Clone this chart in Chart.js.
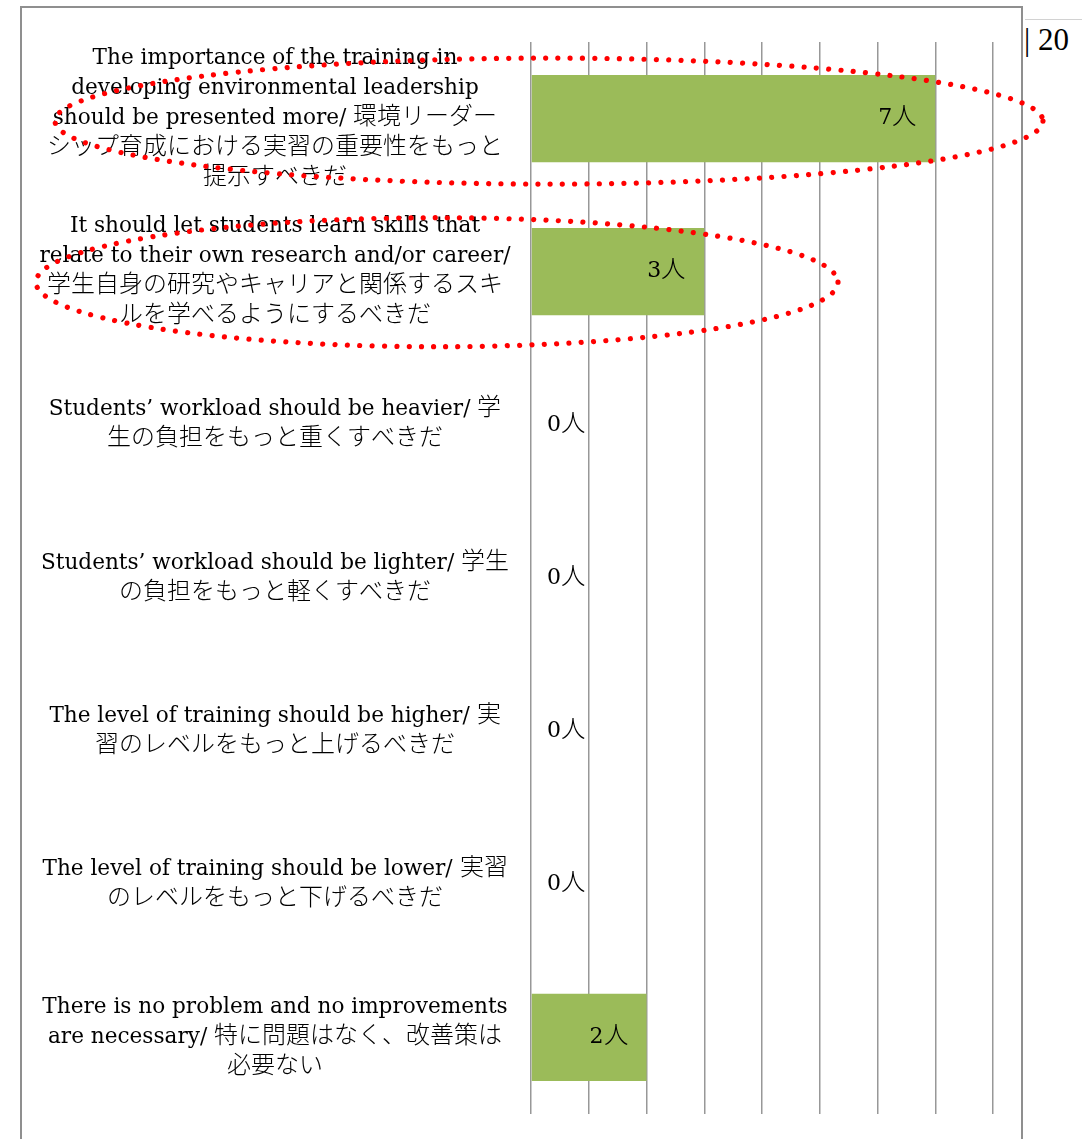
<!DOCTYPE html>
<html>
<head>
<meta charset="utf-8">
<style>
@font-face {
  font-family: 'JPText';
  src: local('Noto Sans CJK JP Light'), local('NotoSansCJKjp-Light'), local('Noto Sans CJK JP'), local('Noto Sans CJK JP Regular'), local('NotoSansCJKjp-Regular');
  size-adjust: 111%;
  unicode-range: U+3000-30FF, U+4E00-9FFF, U+FF00-FFEF;
}
html, body { margin: 0; padding: 0; background: #fff; }
body { width: 1082px; height: 1139px; position: relative; overflow: hidden; }
#frame { position: absolute; left: 20px; top: 6px; width: 1003px; height: 1200px; border: 2px solid #8f8f8f; box-sizing: border-box; }
#rule { position: absolute; left: 1025px; top: 19px; width: 57px; border-top: 1px solid #d2d2d2; }
#page { position: absolute; left: 1024px; top: 22px; font: 31px 'Liberation Serif', serif; line-height: 36px; color: #000; }
#wrap { position: absolute; left: 0; top: 0; width: 1082px; height: 1139px; }
</style>
<script src="https://cdn.jsdelivr.net/npm/chart.js@4/dist/chart.umd.min.js"></script>
</head>
<body>
<div id="frame"></div>
<div id="rule"></div>
<div id="page">| 20</div>
<div id="wrap"><canvas id="chart" width="1082" height="1139"></canvas></div>
<script>
// Survey answers: suggested improvements to the training (one label per row, pre-wrapped)
const categories = [
  ["The importance of the training in", "developing environmental leadership", "should be presented more/ 環境リーダー", "シップ育成における実習の重要性をもっと", "提示すべきだ"],
  ["It should let students learn skills that", "relate to their own research and/or career/", "学生自身の研究やキャリアと関係するスキ", "ルを学べるようにするべきだ"],
  ["Students’ workload should be heavier/ 学", "生の負担をもっと重くすべきだ"],
  ["Students’ workload should be lighter/ 学生", "の負担をもっと軽くすべきだ"],
  ["The level of training should be higher/ 実", "習のレベルをもっと上げるべきだ"],
  ["The level of training should be lower/ 実習", "のレベルをもっと下げるべきだ"],
  ["There is no problem and no improvements", "are necessary/ 特に問題はなく、改善策は", "必要ない"]
];
// Number of respondents per answer
const respondents = [7, 3, 0, 0, 0, 0, 2];
const countUnit = "人";
// Value axis range (grid every 1 person)
const axisMin = 0;
const axisMax = 8;

// Rows ringed with a red dotted highlight
const highlightRows = [0, 1];

const FAMILY = "'DejaVu Serif', JPText, 'Noto Sans CJK JP', serif";
const FONT_SIZE = 21.6;
const LINE_HEIGHT = 30 / 21.6;
const AXIS_RIGHT = 531;      // x where the value axis starts
const LABEL_CENTER = 275;    // centre line of the category labels
const GRID_COLOR = '#989898';
const BAR_COLOR = '#9bbb59';

function widestLine(lines) {
  const c = document.createElement('canvas').getContext('2d');
  c.font = FONT_SIZE + 'px ' + FAMILY;
  let w = 0;
  lines.forEach(group => group.forEach(t => { w = Math.max(w, c.measureText(t).width); }));
  return w;
}

// Value labels: inside the bar end when it fits, just past the bar otherwise
const valueLabels = {
  id: 'valueLabels',
  afterDatasetsDraw(chart) {
    const ctx = chart.ctx;
    const meta = chart.getDatasetMeta(0);
    ctx.save();
    ctx.font = '22px ' + FAMILY;
    ctx.fillStyle = '#000';
    ctx.textBaseline = 'middle';
    meta.data.forEach((bar, i) => {
      const text = respondents[i] + countUnit;
      const w = ctx.measureText(text).width;
      const len = bar.x - bar.base;
      if (len >= w + 36) {
        ctx.textAlign = 'right';
        ctx.fillText(text, bar.x - 19, bar.y);
      } else {
        ctx.textAlign = 'left';
        ctx.fillText(text, bar.x + 16, bar.y);
      }
    });
    ctx.restore();
  }
};

// Hand-drawn style red dotted rings around the highlighted answers
const rings = {
  id: 'rings',
  afterDraw(chart) {
    const ctx = chart.ctx;
    const y = chart.scales.y;
    const shapes = [
      { left: 55, right: 1043, dy: 2.5, ry: 63 },
      { left: 36, right: 838, dy: 10.5, ry: 64.5 }
    ];
    ctx.save();
    ctx.strokeStyle = '#ff0000';
    ctx.lineWidth = 5.2;
    ctx.lineCap = 'round';
    ctx.setLineDash([0.01, 12.3]);
    highlightRows.forEach((row, k) => {
      const s = shapes[k];
      const cy = y.getPixelForValue(row) + s.dy;
      ctx.beginPath();
      ctx.ellipse((s.left + s.right) / 2, cy, (s.right - s.left) / 2, s.ry, 0, 0, Math.PI * 2);
      ctx.stroke();
    });
    ctx.restore();
  }
};

function build() {
  const labelPadding = AXIS_RIGHT - LABEL_CENTER - widestLine(categories) / 2;
  new Chart(document.getElementById('chart'), {
    type: 'bar',
    data: {
      labels: categories,
      datasets: [{
        data: respondents,
        backgroundColor: BAR_COLOR,
        borderWidth: 0,
        barPercentage: 0.57,
        categoryPercentage: 1
      }]
    },
    options: {
      indexAxis: 'y',
      responsive: false,
      animation: false,
      events: [],
      layout: { padding: { left: 0, top: 42, right: 89, bottom: 25 } },
      plugins: { legend: { display: false }, tooltip: { enabled: false } },
      scales: {
        x: {
          min: axisMin,
          max: axisMax,
          ticks: { display: false, stepSize: 1 },
          grid: { color: GRID_COLOR, lineWidth: 1.5, drawTicks: false },
          border: { display: false },
          afterFit(scale) { scale.paddingLeft = 0; scale.paddingRight = 0; }
        },
        y: {
          grid: { display: false, drawTicks: false },
          border: { display: false },
          ticks: {
            crossAlign: 'center',
            padding: labelPadding,
            color: '#000',
            font: { family: FAMILY, size: FONT_SIZE, lineHeight: LINE_HEIGHT }
          },
          afterFit(scale) {
            scale.width = AXIS_RIGHT;
            scale.paddingTop = 0;
            scale.paddingBottom = 0;
          }
        }
      }
    },
    plugins: [valueLabels, rings]
  });
}

document.fonts.load(FONT_SIZE + 'px JPText', '環境').then(build, build);
</script>
</body>
</html>
